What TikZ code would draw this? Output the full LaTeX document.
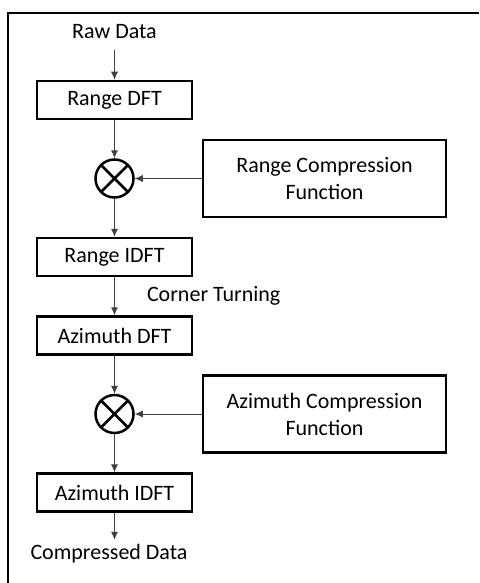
\documentclass[tikz,border=0pt]{standalone}
\usepackage{fontspec}
\setmainfont{Carlito}
\usepackage{tikz}
\usetikzlibrary{arrows.meta,positioning}

\begin{document}
\begin{tikzpicture}[x=0.5pt,y=-0.5pt,node distance=19pt,>={Latex[length=4pt,width=3.6pt]},
plain/.style={inner sep=2pt,text=black,font=\fontsize{11}{13.5}\selectfont},
box/.style={draw,line width=1.25pt,align=center,font=\fontsize{11}{13.5}\selectfont,minimum width=77.5pt,minimum height=19pt,inner sep=0pt},
fbox/.style={box,minimum width=121.5pt,minimum height=38.5pt},
mult/.style={circle,draw,line width=1.25pt,minimum size=19pt,inner sep=0pt,
  path picture={\draw[line width=1.25pt] (path picture bounding box.north west)--(path picture bounding box.south east)
  (path picture bounding box.north east)--(path picture bounding box.south west);}},
arrow/.style={->,line width=0.5pt,black!75}]
\useasboundingbox (0,0) rectangle (479,583);
\draw[line width=1.4pt] (479,13) -- (8,13) -- (8,583);
\node[plain,inner sep=5pt] (raw) at (114.5,32) {Raw Data};
\node[box] (rdft) at (114.5,100) {Range DFT};
\node[mult,below=of rdft] (rmul) {};
\node[box,below=of rmul] (ridft) {Range IDFT};
\node[box,below=of ridft] (adft) {Azimuth DFT};
\node[mult,below=of adft] (amul) {};
\node[box,below=of amul] (aidft) {Azimuth IDFT};
\node[plain,below=13.5pt of aidft,xshift=-2.75pt] (out) {Compressed Data};
\node[fbox,right=33.5pt of rmul] (rfun) {Range Compression\\Function};
\node[fbox,right=33.5pt of amul] (afun) {Azimuth Compression\\Function};
\draw[arrow] (raw)--(rdft); \draw[arrow] (rdft)--(rmul); \draw[arrow] (rfun)--(rmul);
\draw[arrow] (rmul)--(ridft);
\draw[arrow] (ridft)-- node[plain,right=14pt] (turn) {Corner Turning} (adft);
\draw[arrow] (adft)--(amul); \draw[arrow] (afun)--(amul); \draw[arrow] (amul)--(aidft);
\draw[arrow] (aidft.south)--(aidft.south|-out.north);
\end{tikzpicture}
\end{document}
